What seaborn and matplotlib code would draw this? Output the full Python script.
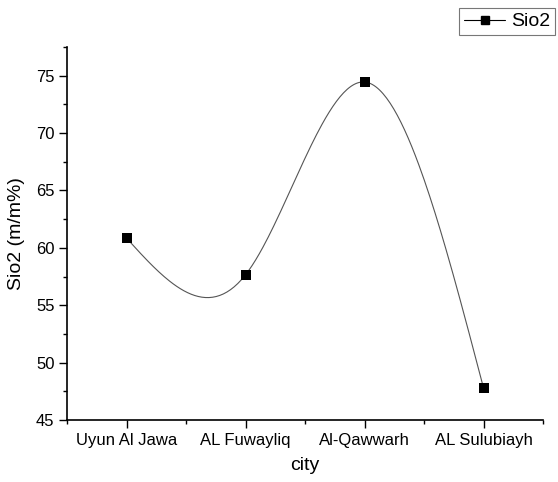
import numpy as np
import pandas as pd
import matplotlib
matplotlib.use("Agg")
import matplotlib.pyplot as plt
import seaborn as sns
from matplotlib.ticker import MultipleLocator, FixedLocator
from matplotlib.lines import Line2D

cities = ["Uyun Al Jawa", "AL Fuwayliq", "Al-Qawwarh", "AL Sulubiayh"]
sio2 = [60.85, 57.65, 74.45, 47.8]

sns.set_style("ticks")
plt.rcParams['font.family'] = ['Liberation Sans', 'DejaVu Sans']
plt.rcParams['text.color'] = 'black'
plt.rcParams['axes.labelcolor'] = 'black'
plt.rcParams['xtick.color'] = 'black'
plt.rcParams['ytick.color'] = 'black'


def natural_spline(x, y, n=200):
    # smooth connecting line, like Origin's spline connect
    x = np.asarray(x, float)
    y = np.asarray(y, float)
    k = len(x)
    h = np.diff(x)
    A = np.zeros((k, k))
    b = np.zeros(k)
    A[0, 0] = A[-1, -1] = 1
    for i in range(1, k - 1):
        A[i, i - 1] = h[i - 1]
        A[i, i] = 2 * (h[i - 1] + h[i])
        A[i, i + 1] = h[i]
        b[i] = 6 * ((y[i + 1] - y[i]) / h[i] - (y[i] - y[i - 1]) / h[i - 1])
    M = np.linalg.solve(A, b)
    xs = np.linspace(x[0], x[-1], n)
    idx = np.clip(np.searchsorted(x, xs) - 1, 0, k - 2)
    t0 = x[idx]
    t1 = x[idx + 1]
    hh = t1 - t0
    ys = (M[idx] * (t1 - xs) ** 3 / (6 * hh) + M[idx + 1] * (xs - t0) ** 3 / (6 * hh)
          + (y[idx] / hh - M[idx] * hh / 6) * (t1 - xs)
          + (y[idx + 1] / hh - M[idx + 1] * hh / 6) * (xs - t0))
    return xs, ys


pos = np.arange(len(cities))
xs, ys = natural_spline(pos, sio2)
df_pts = pd.DataFrame({"pos": pos, "sio2": sio2})
df_line = pd.DataFrame({"pos": xs, "sio2": ys})

fig = plt.figure(figsize=(5.58, 4.82), dpi=100)
ax = fig.add_axes([67 / 558, 1 - 420 / 482, (543 - 67) / 558, (420 - 47) / 482])

sns.lineplot(data=df_line, x="pos", y="sio2", color="#555555", linewidth=0.8, ax=ax)
sns.scatterplot(data=df_pts, x="pos", y="sio2", marker="s", s=42, color="black",
                edgecolor="black", linewidth=0, ax=ax, zorder=3)

ax.set_xlim(-0.5, 3.5)
ax.set_ylim(45, 77.5)
ax.set_xticks(pos)
ax.set_xticklabels(cities, fontsize=12)
ax.xaxis.set_minor_locator(FixedLocator([-0.5, 0.5, 1.5, 2.5, 3.5]))
ax.yaxis.set_major_locator(MultipleLocator(5))
ax.yaxis.set_minor_locator(MultipleLocator(2.5))
ax.tick_params(axis="y", labelsize=12)
ax.tick_params(which="major", direction="out", length=6, width=1, color="black", pad=3)
ax.tick_params(which="minor", direction="out", length=3, width=1, color="black")

for s in ["top", "right"]:
    ax.spines[s].set_visible(False)
for s in ["left", "bottom"]:
    ax.spines[s].set_color("black")
    ax.spines[s].set_linewidth(1.2)

ax.set_xlabel("city", fontsize=14, labelpad=7)
ax.set_ylabel("Sio2 (m/m%)", fontsize=14, labelpad=8)

handle = Line2D([], [], color="black", linewidth=0.8, marker="s", markersize=6)
leg = fig.legend([handle], ["Sio2"], loc="upper right", bbox_to_anchor=(555 / 558, 1 - 8 / 482),
                 fontsize=14, frameon=True, fancybox=False, handlelength=2.1,
                 borderpad=0.25, handletextpad=0.3, borderaxespad=0)
leg.get_frame().set_edgecolor("#555555")
leg.get_frame().set_linewidth(0.8)

fig.savefig("out.png", dpi=100)
